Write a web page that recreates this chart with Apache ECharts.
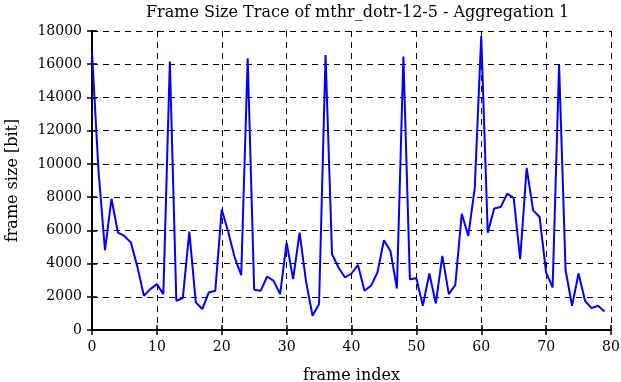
<!DOCTYPE html>
<html><head><meta charset="utf-8">
<script src="https://cdn.jsdelivr.net/npm/echarts@6/dist/echarts.min.js"></script>
<style>html,body{margin:0;padding:0;background:#fff}#c{width:621px;height:382px}</style>
</head><body><div id="c"></div>
<script>
const frameIndex = [];
for (let i = 0; i < 80; i++) frameIndex.push(i);
const frameSize = [
 16700, 9600, 4800, 7900, 5860, 5660, 5260, 3800, 2060, 2460,
 2760, 2160, 16160, 1760, 1920, 5920, 1660, 1260, 2260, 2360,
 7260, 5900, 4360, 3300, 16360, 2420, 2360, 3220, 2960, 2160,
 5260, 3060, 5860, 2900, 860, 1560, 16560, 4560, 3760, 3160,
 3400, 3920, 2360, 2660, 3460, 5400, 4760, 2500, 16460, 3060,
 3120, 1460, 3400, 1600, 4460, 2160, 2720, 7000, 5660, 8560,
 17700, 5860, 7320, 7400, 8200, 7960, 4260, 9760, 7200, 6800,
 3460, 2560, 15960, 3600, 1460, 3400, 1760, 1320, 1460, 1120
];
const titleText = 'Frame Size Trace of mthr_dotr-12-5 - Aggregation 1';
const xName = 'frame index';
const yName = 'frame size [bit]';

const font = 'DejaVu Serif';
const chart = echarts.init(document.getElementById('c'));
const lineStyle = {color:'#000', width:2};
const tick = {show:true, inside:true, length:5, lineStyle:{color:'#000', width:1.5}};
chart.setOption({
  animation:false,
  title:{text:titleText, left:141, top:0, textStyle:{fontFamily:font, fontSize:16, fontWeight:'normal', color:'#000'}},
  grid:{left:92, right:10, top:31, bottom:52, outerBoundsMode:'none', containLabel:false},
  xAxis:[{
    type:'value', min:0, max:80, interval:10,
    name:xName, nameLocation:'middle', nameGap:38,
    nameTextStyle:{fontFamily:font, fontSize:16, color:'#000'},
    axisLine:{show:true, lineStyle:lineStyle}, axisTick:tick,
    axisLabel:{fontFamily:font, fontSize:14, color:'#000', margin:10},
    splitLine:{show:true, lineStyle:{color:'#000', type:[6,5], width:1}}
  },{
    type:'value', min:0, max:80, interval:10, position:'top',
    axisLine:{show:true, lineStyle:lineStyle}, axisTick:tick,
    axisLabel:{show:false}, splitLine:{show:false}
  }],
  yAxis:[{
    type:'value', min:0, max:18000, interval:2000,
    name:yName, nameLocation:'middle', nameGap:71, nameRotate:90,
    nameTextStyle:{fontFamily:font, fontSize:16, color:'#000'},
    axisLine:{show:true, lineStyle:lineStyle}, axisTick:tick,
    axisLabel:{fontFamily:font, fontSize:14, color:'#000', margin:10, formatter:v=>String(v)},
    splitLine:{show:true, lineStyle:{color:'#000', type:[6,5], width:1}}
  },{
    type:'value', min:0, max:18000, interval:2000, position:'right',
    axisLine:{show:true, lineStyle:lineStyle}, axisTick:tick,
    axisLabel:{show:false}, splitLine:{show:false}
  }],
  series:[{
    type:'line', xAxisIndex:0, yAxisIndex:0,
    data:frameIndex.map((x,i)=>[x, frameSize[i]]),
    showSymbol:false, symbol:'none',
    lineStyle:{color:'#0000ff', width:2}, itemStyle:{color:'#0000ff'}
  }]
});
</script></body></html>
